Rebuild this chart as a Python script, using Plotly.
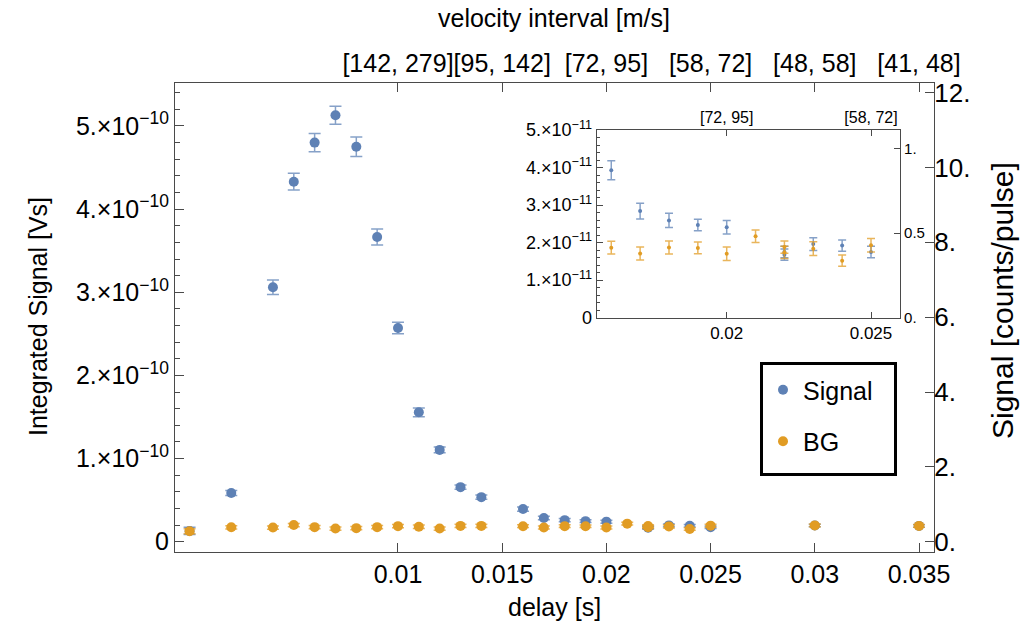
import plotly.graph_objects as go

# ---------------- data ----------------
sig_delay = [0.000, 0.002, 0.004, 0.005, 0.006, 0.007, 0.008, 0.009, 0.010, 0.011,
             0.012, 0.013, 0.014, 0.016, 0.017, 0.018, 0.019, 0.020, 0.022, 0.022,
             0.023, 0.024, 0.025, 0.030, 0.035]
sig_val = [0.13e-10, 0.585e-10, 3.06e-10, 4.33e-10, 4.80e-10, 5.13e-10, 4.75e-10, 3.665e-10,
           2.57e-10, 1.556e-10, 1.104e-10, 0.656e-10, 0.536e-10, 0.3925e-10, 0.284e-10,
           0.259e-10, 0.247e-10, 0.241e-10, 0.175e-10, 0.168e-10, 0.196e-10, 0.192e-10,
           0.175e-10, 0.195e-10, 0.190e-10]
sig_err = [0.045e-10, 0.03e-10, 0.088e-10, 0.10e-10, 0.11e-10, 0.108e-10, 0.116e-10, 0.096e-10,
           0.07e-10, 0.052e-10, 0.035e-10, 0.025e-10, 0.025e-10, 0.0253e-10, 0.021e-10,
           0.019e-10, 0.0155e-10, 0.018e-10, 0.015e-10, 0.015e-10, 0.017e-10, 0.015e-10,
           0.015e-10, 0.015e-10, 0.015e-10]

bg_delay = [0.000, 0.002, 0.004, 0.005, 0.006, 0.007, 0.008, 0.009, 0.010, 0.011,
            0.012, 0.013, 0.014, 0.016, 0.017, 0.018, 0.019, 0.020, 0.021, 0.022,
            0.022, 0.023, 0.024, 0.025, 0.030, 0.035]
bg_val = [0.125e-10, 0.173e-10, 0.17e-10, 0.20e-10, 0.175e-10, 0.158e-10, 0.163e-10, 0.175e-10,
          0.187e-10, 0.18e-10, 0.158e-10, 0.19e-10, 0.19e-10, 0.1865e-10, 0.171e-10,
          0.187e-10, 0.186e-10, 0.1705e-10, 0.217e-10, 0.188e-10, 0.174e-10, 0.184e-10,
          0.152e-10, 0.193e-10, 0.196e-10, 0.190e-10]
bg_err = [0.03e-10, 0.02e-10, 0.02e-10, 0.02e-10, 0.02e-10, 0.02e-10, 0.02e-10, 0.02e-10,
          0.02e-10, 0.02e-10, 0.02e-10, 0.02e-10, 0.02e-10, 0.017e-10, 0.017e-10,
          0.017e-10, 0.0155e-10, 0.018e-10, 0.0165e-10, 0.016e-10, 0.016e-10, 0.018e-10,
          0.015e-10, 0.018e-10, 0.016e-10, 0.016e-10]

# axis ticks
x_ticks = [0.01, 0.015, 0.02, 0.025, 0.03, 0.035]
x_ticktext = ["0.01", "0.015", "0.02", "0.025", "0.03", "0.035"]
vel_text = ["[142, 279]", "[95, 142]", "[72, 95]", "[58, 72]", "[48, 58]", "[41, 48]"]
y_ticks = [0, 1e-10, 2e-10, 3e-10, 4e-10, 5e-10]
y_ticktext = ["0"] + [f"{i}.×10<sup>−10</sup>" for i in range(1, 6)]
r_ticks = [0, 2, 4, 6, 8, 10, 12]
r_ticktext = ["0.", "2.", "4.", "6.", "8.", "10.", "12."]

in_x_ticks = [0.02, 0.025]
in_x_ticktext = ["0.02", "0.025"]
in_vel_text = ["[72, 95]", "[58, 72]"]
in_y_ticks = [0, 1e-11, 2e-11, 3e-11, 4e-11, 5e-11]
in_y_ticktext = ["0"] + [f"{i}.×10<sup>−11</sup>" for i in range(1, 6)]
in_r_ticks = [0, 0.5, 1.0]
in_r_ticktext = ["0.", "0.5", "1."]

VS_PER_COUNT = 4.5e-11

BLUE = "#5E81B5"
ORANGE = "#E19C24"
BLUE_E = "rgba(94,129,181,0.75)"
ORANGE_E = "rgba(225,156,36,0.75)"
AX = "#4a4a4a"
FONT = "Liberation Sans, Arial, sans-serif"

# ranges
x_main = [-0.0007, 0.03572]
y_main = [-1.24e-11, 5.517e-10]
r_main = [y_main[0] / VS_PER_COUNT, y_main[1] / VS_PER_COUNT]
x_in = [0.015495, 0.026005]
y_in = [0, 5.0e-11]
r_in = [0, 5.0e-11 / VS_PER_COUNT]

fig = go.Figure()

# main traces
fig.add_trace(go.Scatter(
    x=sig_delay, y=sig_val, mode="markers", name="Signal",
    marker=dict(color=BLUE, size=10),
    error_y=dict(type="data", array=sig_err, color=BLUE_E, thickness=1.5, width=6),
    xaxis="x", yaxis="y", legendgroup="a"))
fig.add_trace(go.Scatter(
    x=bg_delay, y=bg_val, mode="markers", name="BG",
    marker=dict(color=ORANGE, size=10),
    error_y=dict(type="data", array=bg_err, color=ORANGE_E, thickness=1.5, width=6),
    xaxis="x", yaxis="y", legendgroup="b"))

# inset traces (subset within the inset window)
def sub(xs, ys, es):
    idx = [i for i, v in enumerate(xs) if x_in[0] <= v <= x_in[1]]
    return [xs[i] for i in idx], [ys[i] for i in idx], [es[i] for i in idx]

sx, sy, se = sub(sig_delay, sig_val, sig_err)
bx, by, be = sub(bg_delay, bg_val, bg_err)
fig.add_trace(go.Scatter(
    x=sx, y=sy, mode="markers", showlegend=False,
    marker=dict(color=BLUE, size=4),
    error_y=dict(type="data", array=se, color=BLUE_E, thickness=1.5, width=4),
    xaxis="x3", yaxis="y3"))
fig.add_trace(go.Scatter(
    x=bx, y=by, mode="markers", showlegend=False,
    marker=dict(color=ORANGE, size=4),
    error_y=dict(type="data", array=be, color=ORANGE_E, thickness=1.5, width=4),
    xaxis="x3", yaxis="y3"))

# empty traces to attach secondary axes
for xa, ya in [("x2", "y"), ("x", "y2"), ("x4", "y3"), ("x3", "y4")]:
    fig.add_trace(go.Scatter(x=[], y=[], xaxis=xa, yaxis=ya, showlegend=False,
                             hoverinfo="skip"))

main_xd = [175 / 1022, 934 / 1022]
main_yd = [77 / 629, 546 / 629]
in_xd = [596.7 / 1022, 900 / 1022]
in_yd = [(629 - 317.7) / 629, (629 - 130) / 629]

common = dict(showline=True, linecolor=AX, linewidth=1.2, ticks="inside",
              tickcolor=AX, showgrid=False, zeroline=False, tickmode="array",
              automargin=False, tickangle=0)

fig.update_layout(
    width=1022, height=629,
    margin=dict(l=0, r=0, t=0, b=0, autoexpand=False),
    paper_bgcolor="white", plot_bgcolor="white",
    font=dict(family=FONT, size=24, color="black"),
    showlegend=True,
    legend=dict(x=763 / 1022, y=(629 - 367) / 629, xanchor="left", yanchor="top",
                borderwidth=0, bgcolor="rgba(0,0,0,0)",
                font=dict(size=25), traceorder="grouped", tracegroupgap=16,
                itemsizing="trace", itemwidth=30),
    shapes=[dict(type="rect", xref="paper", yref="paper",
                 x0=761.5 / 1022, x1=895.5 / 1022,
                 y0=(629 - 474.5) / 629, y1=(629 - 363.5) / 629,
                 line=dict(color="black", width=3), fillcolor="white", layer="below")],
    xaxis=dict(domain=main_xd, range=x_main, anchor="y", tickvals=x_ticks,
               ticktext=x_ticktext, ticklen=9, tickfont=dict(size=25), **common),
    xaxis2=dict(domain=main_xd, range=x_main, overlaying="x", side="top", anchor="y",
                tickvals=x_ticks, ticktext=vel_text, ticklen=9,
                tickfont=dict(size=25), **common),
    yaxis=dict(domain=main_yd, range=y_main, anchor="x", tickvals=y_ticks,
               ticktext=y_ticktext, ticklen=9, tickfont=dict(size=25),
               minor=dict(tickmode="array",
                          tickvals=[i * 2e-11 for i in range(0, 28) if i % 5 != 0],
                          ticks="inside", ticklen=5, tickcolor=AX),
               **common),
    yaxis2=dict(domain=main_yd, range=r_main, overlaying="y", side="right", anchor="x",
                tickvals=r_ticks, ticktext=r_ticktext, ticklen=9,
                tickfont=dict(size=26), ticklabelstandoff=-6, **common),
    xaxis3=dict(domain=in_xd, range=x_in, anchor="y3", tickvals=in_x_ticks,
                ticktext=in_x_ticktext, ticklen=6, tickfont=dict(size=17), **common),
    xaxis4=dict(domain=in_xd, range=x_in, overlaying="x3", side="top", anchor="y3",
                tickvals=in_x_ticks, ticktext=in_vel_text, ticklen=6,
                tickfont=dict(size=16), **common),
    yaxis3=dict(domain=in_yd, range=y_in, anchor="x3", tickvals=in_y_ticks,
                ticktext=in_y_ticktext, ticklen=6, tickfont=dict(size=18),
                minor=dict(tickmode="array",
                           tickvals=[i * 2e-12 for i in range(1, 25) if i % 5 != 0],
                           ticks="inside", ticklen=3, tickcolor=AX),
                **common),
    yaxis4=dict(domain=in_yd, range=r_in, overlaying="y3", side="right", anchor="x3",
                tickvals=in_r_ticks, ticktext=in_r_ticktext, ticklen=6,
                tickfont=dict(size=15), **common),
    annotations=[
        dict(text="velocity interval [m/s]", x=554 / 1022, y=1 - 18 / 629,
             xref="paper", yref="paper", showarrow=False, font=dict(size=25),
             xanchor="center", yanchor="middle"),
        dict(text="delay [s]", x=554 / 1022, y=1 - 607 / 629,
             xref="paper", yref="paper", showarrow=False, font=dict(size=25),
             xanchor="center", yanchor="middle"),
        dict(text="Integrated Signal [Vs]", x=38 / 1022, y=1 - 317 / 629,
             xref="paper", yref="paper", showarrow=False, font=dict(size=25),
             textangle=-90, xanchor="center", yanchor="middle"),
        dict(text="Signal [counts/pulse]", x=1002 / 1022, y=1 - 301 / 629,
             xref="paper", yref="paper", showarrow=False, font=dict(size=30),
             textangle=-90, xanchor="center", yanchor="middle"),
    ],
)

fig.write_html("out.html")
